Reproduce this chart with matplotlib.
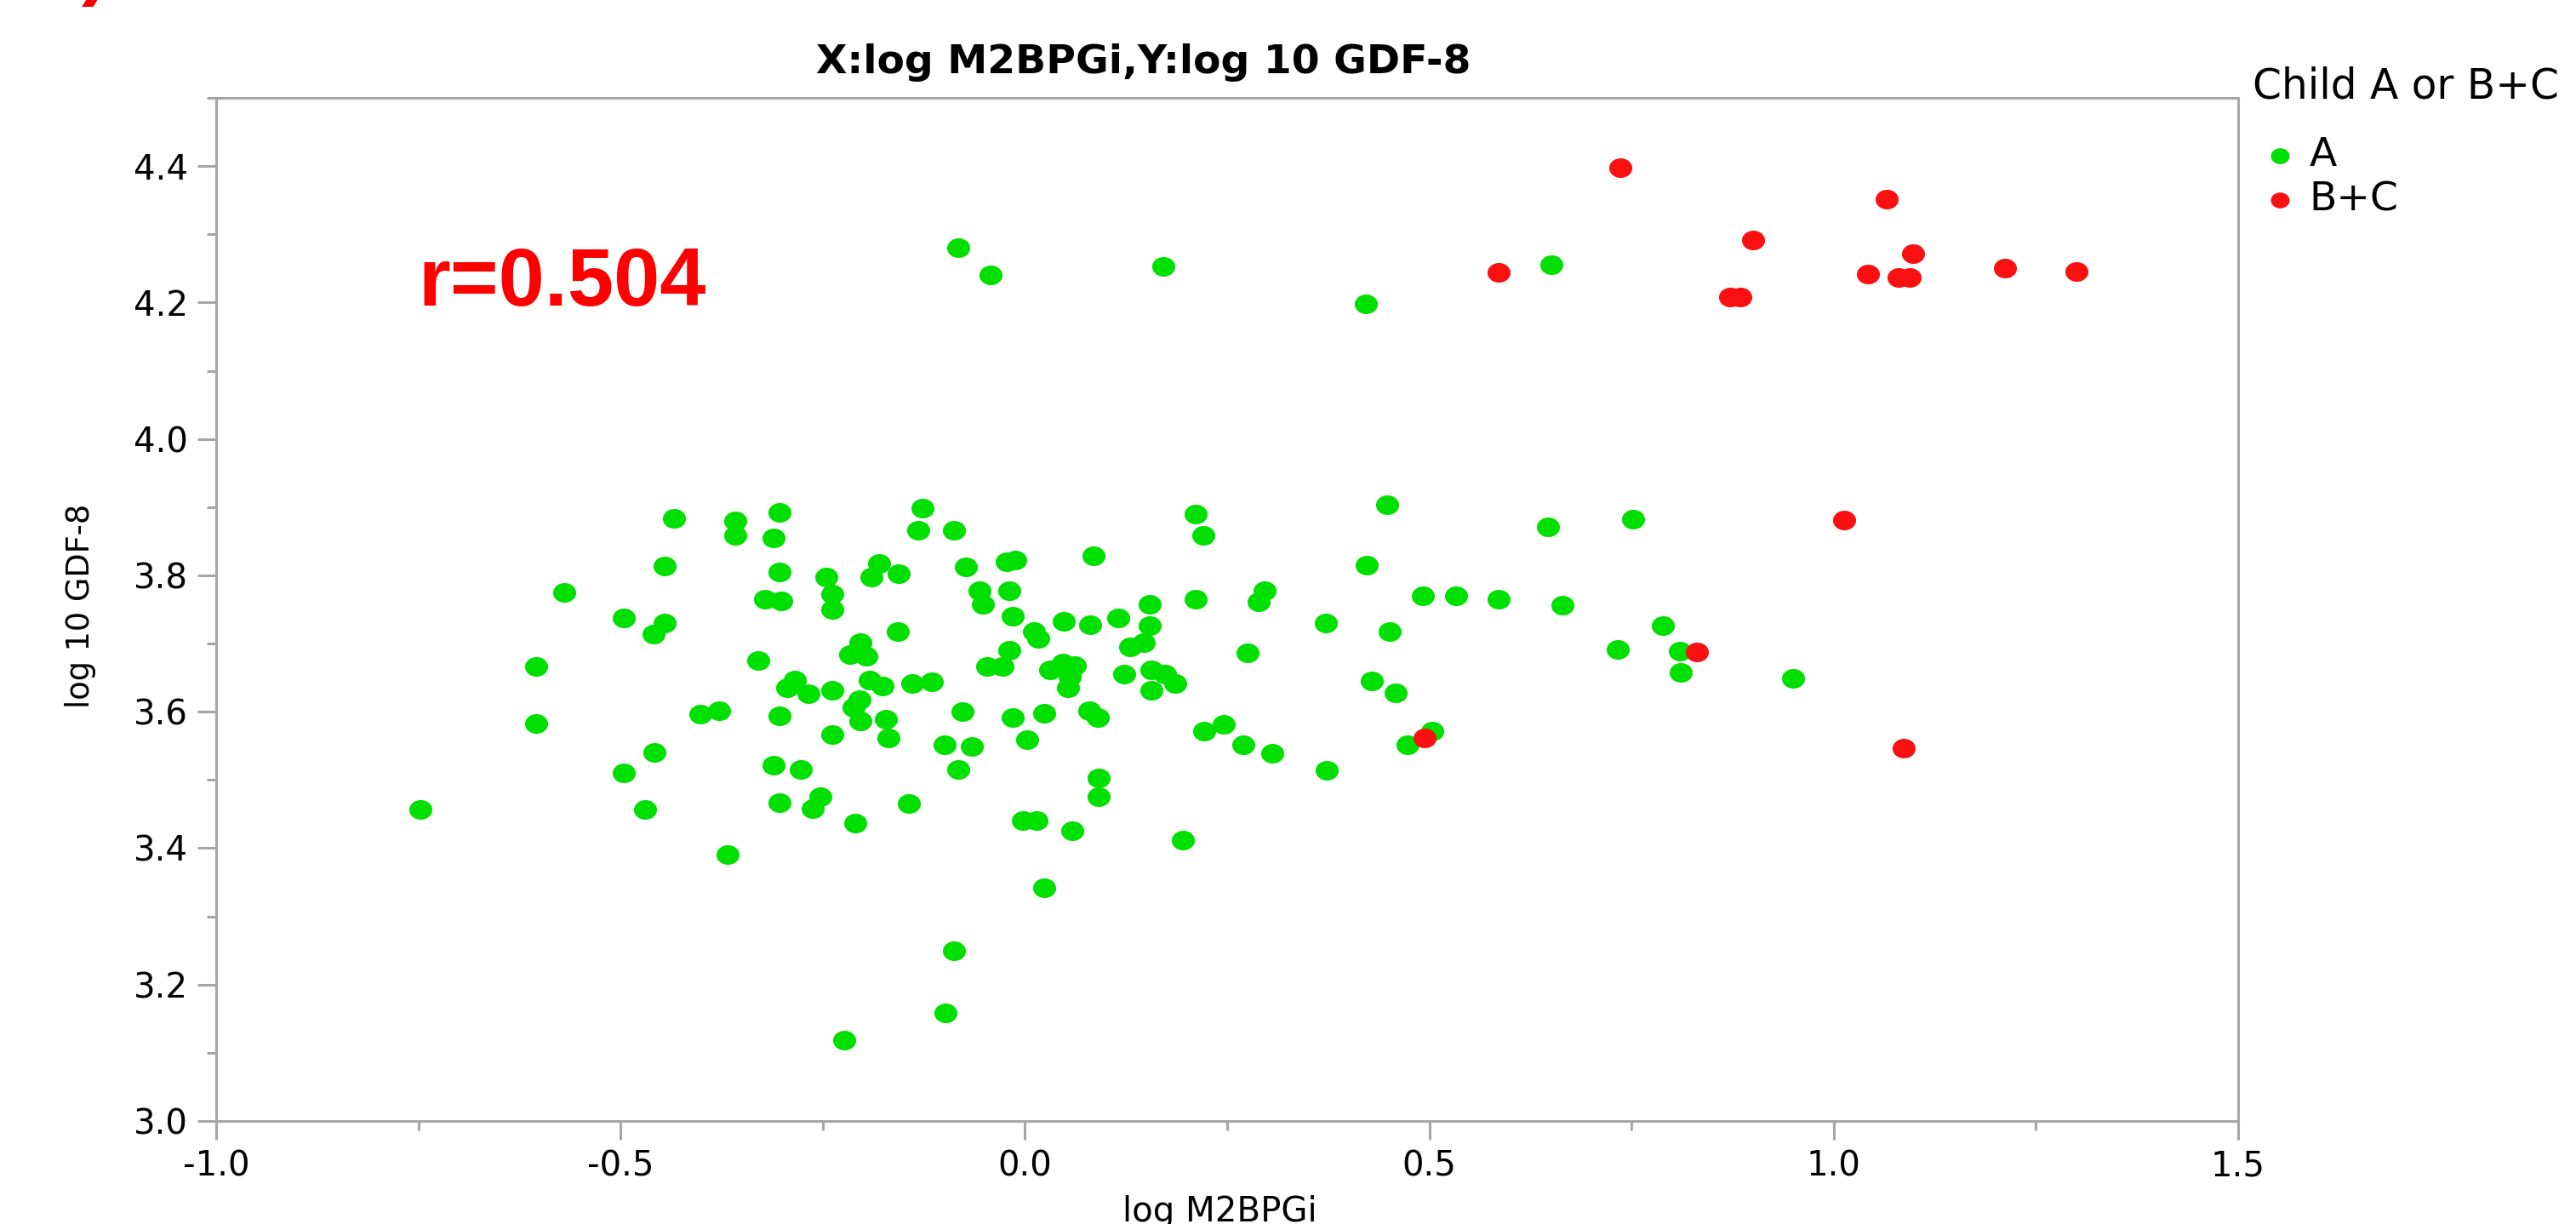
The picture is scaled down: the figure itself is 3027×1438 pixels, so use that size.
import numpy as np
import matplotlib
matplotlib.use("Agg")
import matplotlib.pyplot as plt
from matplotlib.path import Path
from matplotlib.transforms import Affine2D
from matplotlib.ticker import MultipleLocator, FormatStrFormatter

plt.rcParams['font.family'] = ['DejaVu Sans']
plt.rcParams['axes.unicode_minus'] = False

# group A (green)
a_x = [-0.082, -0.042, 0.171, 0.421, 0.651,
       -0.434, -0.358, -0.358, -0.303, -0.311, -0.446, -0.570, -0.303, -0.246, -0.238,
       -0.238, -0.321, -0.301, -0.496, -0.446, -0.459, -0.604, -0.330, -0.203, -0.216,
       -0.196, -0.294, -0.284, -0.268, -0.238, -0.192, -0.205, -0.212, -0.203, -0.401,
       -0.378, -0.604, -0.303, -0.238, -0.458, -0.496, -0.311, -0.277, -0.747, -0.470,
       -0.303, -0.253, -0.262, -0.210, -0.368, -0.223,
       -0.127, -0.132, -0.088, 0.211, 0.221, 0.085, -0.180, -0.190, -0.156, -0.073,
       -0.022, -0.012, -0.056, -0.052, -0.019, -0.015, 0.211, 0.296, 0.289, 0.372,
       0.154, 0.154, 0.130, 0.147, -0.157, 0.048, 0.081, 0.115, 0.011, 0.016,
       -0.019, -0.028, -0.047, -0.176, -0.139, -0.115, 0.031, 0.047, 0.062, 0.053,
       0.055, 0.123, 0.156, 0.173, 0.186, 0.156, 0.275, -0.172, -0.169, -0.077,
       -0.015, 0.024, 0.080, 0.090, 0.003, -0.099, -0.066, -0.082, 0.222, 0.246,
       0.270, 0.306, 0.373, 0.091, 0.091, -0.144, -0.003, 0.014, 0.059, 0.195,
       0.024, -0.088, -0.098,
       0.448, 0.647, 0.752, 0.423, 0.492, 0.533, 0.586, 0.665, 0.451, 0.789,
       0.733, 0.810, 0.811, 0.950, 0.429, 0.458, 0.504, 0.473]
a_y = [4.280, 4.240, 4.253, 4.198, 4.255,
       3.883, 3.880, 3.859, 3.892, 3.855, 3.814, 3.775, 3.805, 3.797, 3.773,
       3.750, 3.765, 3.763, 3.737, 3.730, 3.714, 3.667, 3.675, 3.701, 3.684,
       3.681, 3.635, 3.646, 3.627, 3.632, 3.647, 3.618, 3.607, 3.587, 3.597,
       3.601, 3.583, 3.594, 3.567, 3.540, 3.511, 3.522, 3.516, 3.457, 3.457,
       3.467, 3.475, 3.458, 3.437, 3.390, 3.118,
       3.898, 3.866, 3.866, 3.890, 3.858, 3.829, 3.817, 3.798, 3.803, 3.812,
       3.820, 3.822, 3.777, 3.757, 3.777, 3.740, 3.765, 3.777, 3.761, 3.730,
       3.758, 3.726, 3.695, 3.701, 3.717, 3.733, 3.728, 3.737, 3.718, 3.707,
       3.690, 3.667, 3.667, 3.638, 3.642, 3.644, 3.661, 3.671, 3.668, 3.635,
       3.652, 3.655, 3.661, 3.655, 3.642, 3.631, 3.686, 3.589, 3.561, 3.600,
       3.592, 3.598, 3.601, 3.591, 3.559, 3.552, 3.549, 3.515, 3.571, 3.581,
       3.552, 3.539, 3.514, 3.503, 3.476, 3.465, 3.440, 3.440, 3.425, 3.412,
       3.342, 3.249, 3.159,
       3.903, 3.871, 3.882, 3.815, 3.770, 3.770, 3.765, 3.756, 3.718, 3.726,
       3.691, 3.689, 3.658, 3.649, 3.645, 3.628, 3.571, 3.551]

# group B+C (red)
bc_x = [0.586, 0.736, 1.065, 0.900, 1.098, 1.042, 1.080, 1.094, 1.212, 1.300,
        0.872, 0.884, 1.013, 0.831, 0.494, 1.087]
bc_y = [4.244, 4.398, 4.352, 4.292, 4.272, 4.242, 4.237, 4.237, 4.250, 4.245,
        4.208, 4.208, 3.881, 3.687, 3.562, 3.547]

groups = ["A", "B+C"]
colors = ["#00e000", "#fa1010"]

W, H = 3027, 1438
fig = plt.figure(figsize=(W / 100, H / 100), dpi=100)
ax = fig.add_axes([254 / W, 1 - 1317 / H, (2630 - 254) / W, (1317 - 115) / H])

# slightly wide dots like the original
dot = Path.unit_circle().transformed(Affine2D().scale(1.0, 0.85))

ax.scatter(a_x, a_y, s=380, marker=dot, color=colors[0], linewidths=0, label=groups[0])
ax.scatter(bc_x, bc_y, s=380, marker=dot, color=colors[1], linewidths=0, label=groups[1])

ax.set_xlim(-1.0, 1.5)
ax.set_ylim(3.0, 4.5)
ax.xaxis.set_major_locator(MultipleLocator(0.5))
ax.xaxis.set_minor_locator(MultipleLocator(0.25))
ax.yaxis.set_major_locator(MultipleLocator(0.2))
ax.yaxis.set_minor_locator(MultipleLocator(0.1))
ax.xaxis.set_major_formatter(FormatStrFormatter("%.1f"))
ax.yaxis.set_major_formatter(FormatStrFormatter("%.1f"))

gray = "#a6a6a6"
for s in ax.spines.values():
    s.set_color(gray)
    s.set_linewidth(2.2)
ax.tick_params(which="major", length=16, width=2.2, color=gray, labelsize=29, pad=8)
ax.tick_params(which="minor", length=8, width=2.2, color=gray)

fig.text(1344 / W, 1 - 86 / H, "X:log M2BPGi,Y:log 10 GDF-8", fontsize=34,
         fontweight="bold", ha="center", va="baseline")
fig.text(95 / W, 1 - 712 / H, "log 10 GDF-8", fontsize=26.5, rotation=90,
         ha="center", va="center")
fig.text(1433 / W, 1 - 1435 / H, "log M2BPGi", fontsize=29, ha="center", va="baseline")

fig.text(491 / W, 1 - 359 / H, "r=0.504", fontsize=70, fontweight="bold", color="red",
         family="Liberation Sans", ha="left", va="baseline")
# leftover of a red glyph cut at the top edge
fig.text(112 / W, 1 + 12 / H, ")", fontsize=70, fontweight="bold", color="red",
         family="Liberation Sans", ha="center", va="baseline")

# legend title and entries
fig.text(2647 / W, 1 - 116 / H, "Child A or B+C", fontsize=35, ha="left", va="baseline")
leg = fig.legend(loc="upper left", bbox_to_anchor=(2655 / W, 1 - 160 / H),
                 fontsize=34, frameon=False, markerscale=0.81, handletextpad=0.24,
                 handlelength=1.0, labelspacing=0.15, borderpad=0, borderaxespad=0)

fig.savefig("out.png", dpi=100)
